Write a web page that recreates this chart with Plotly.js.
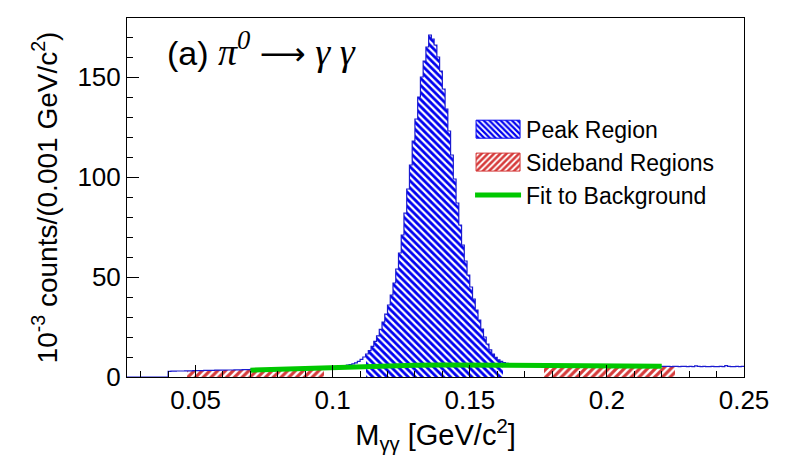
<!DOCTYPE html>
<html><head><meta charset="utf-8">
<script src="https://cdn.plot.ly/plotly-3.0.1.min.js"></script>
<style>html,body{margin:0;padding:0;background:#fff}#chart{width:786px;height:457px}</style>
</head><body><div id="chart"></div>
<script>
// Histogram: 0.001 GeV/c^2 bins starting at 0.025
const binStart = 0.025;
const binWidth = 0.001;
const counts = [
  0,0,0,0,0,0,0,0,0,0,
  0,0,0,0,0,
  2.8,2.9,2.9,3.0,3.0,3.0,3.1,3.1,3.1,3.2,
  3.2,3.2,3.2,3.3,3.3,3.3,3.3,3.4,3.4,3.4,
  3.4,3.5,3.5,3.5,3.6,3.6,3.6,3.7,3.7,3.7,
  3.8,3.8,3.8,3.9,3.9,4.0,4.0,4.0,4.1,4.1,
  4.1,4.2,4.2,4.3,4.3,4.3,4.4,4.4,4.5,4.5,
  4.5,4.6,4.6,4.7,4.7,4.8,4.8,4.8,4.9,4.9,
  5.0,5.1,5.2,5.4,5.6,5.9,6.2,6.6,7.1,7.8,
  8.8,10.0,11.5,13.2,15.3,17.8,20.6,23.8,27.4,31.4,
  36,41,47,54,62,71,82,94,106,118,
  129,140,150,158,165,171,169,166,160,153,
  144,134,123,111,99,87,76,66,58,51,
  45,39,33.5,28.5,24,20,16.5,13.6,11.4,9.8,
  8.6,7.8,7.2,6.8,6.5,6.3,6.2,6.1,6.0,6.0,
  5.9,5.9,5.9,5.8,5.8,5.8,5.8,5.7,5.7,5.7,
  5.7,5.7,5.6,5.7,5.6,5.6,5.7,5.6,5.6,5.6,
  5.6,5.5,5.6,5.6,5.5,5.5,5.6,5.5,5.5,5.5,
  5.5,5.4,5.5,5.5,5.4,5.4,5.5,5.4,5.4,5.4,
  5.4,5.4,5.3,5.4,5.4,5.3,5.3,5.4,5.3,5.3,
  5.3,5.3,5.3,5.2,5.3,5.3,5.2,5.3,5.3,5.2,
  5.3,5.2,5.6,5.3,5.2,5.3,5.2,5.2,5.3,5.2,
  5.2,5.3,5.2,5.7,5.3,5.2,5.2,5.3,5.2,5.3
];
const peakRegion = [0.112, 0.162];
const sidebandRegions = [[0.047, 0.097], [0.177, 0.225]];
const fitX = [0.07,0.08,0.09,0.10,0.11,0.12,0.13,0.14,0.15,0.16,0.17,0.18,0.19,0.20,0.21,0.22];
const fitY = [3.4,3.9,4.4,4.9,5.3,5.7,5.9,6.0,6.0,5.95,5.9,5.8,5.7,5.6,5.5,5.4];

const eps = 1e-9;
const leftEdges = counts.map((_, i) => binStart + i * binWidth);
const centers = leftEdges.map(e => e + binWidth / 2);
function inRegion(i, lo, hi) {
  const e = leftEdges[i];
  return e >= lo - eps && e + binWidth <= hi + eps;
}
const peakIdx = counts.map((_, i) => i).filter(i => inRegion(i, peakRegion[0], peakRegion[1]));
const sideIdx = counts.map((_, i) => i).filter(i => sidebandRegions.some(r => inRegion(i, r[0], r[1])));

const outlineX = leftEdges.concat([binStart + counts.length * binWidth]);
const outlineY = counts.concat([counts[counts.length - 1]]);

const blue = '#0000f0';
const red = '#d63b3b';

const traces = [
  {
    type: 'bar', name: 'Sideband Regions', legendrank: 2,
    x: sideIdx.map(i => centers[i]), y: sideIdx.map(i => counts[i]),
    width: binWidth,
    marker: { color: 'rgba(0,0,0,0)', line: { width: 0 },
      pattern: { shape: '/', fgcolor: red, bgcolor: 'white', size: 5.5, solidity: 0.58 } },
    hoverinfo: 'skip'
  },
  {
    type: 'bar', name: 'Peak Region', legendrank: 1,
    x: peakIdx.map(i => centers[i]), y: peakIdx.map(i => counts[i]),
    width: binWidth,
    marker: { color: 'rgba(0,0,0,0)', line: { width: 0 },
      pattern: { shape: '\\', fgcolor: blue, bgcolor: 'white', size: 5, solidity: 0.55 } },
    hoverinfo: 'skip'
  },
  {
    type: 'scatter', mode: 'lines', x: outlineX, y: outlineY,
    line: { shape: 'hv', color: '#1a1ad0', width: 1.2 },
    showlegend: false, hoverinfo: 'skip'
  },
  {
    type: 'scatter', mode: 'lines', name: 'Fit to Background', legendrank: 3,
    x: fitX, y: fitY, line: { color: '#00c800', width: 5 }, hoverinfo: 'skip'
  }
];

const axisCommon = {
  ticks: 'inside', ticklen: 12, tickwidth: 1, tickcolor: 'black',
  showline: true, linecolor: 'black', linewidth: 1, mirror: true,
  showgrid: false, zeroline: false,
  tickfont: { size: 26, color: 'black' }
};

const legendItemWidth = 46;

const layout = {
  width: 786, height: 457,
  margin: { l: 127, r: 42, t: 18, b: 80 },
  paper_bgcolor: 'white', plot_bgcolor: 'white',
  font: { family: 'Liberation Sans, Arial, Helvetica, sans-serif', color: 'black', size: 26 },
  barmode: 'overlay', bargap: 0,
  xaxis: Object.assign({}, axisCommon, {
    range: [0.025, 0.25], tick0: 0, dtick: 0.05,
    minor: { dtick: 0.01, ticks: 'inside', ticklen: 6, tickcolor: 'black' },
    title: { text: 'M<sub>γγ</sub> [GeV/c<sup>2</sup>]\u00a0\u00a0\u00a0', font: { size: 29 }, standoff: 8 }
  }),
  yaxis: Object.assign({}, axisCommon, {
    range: [0, 179.5], tick0: 0, dtick: 50,
    minor: { dtick: 10, ticks: 'inside', ticklen: 6, tickcolor: 'black' },
    title: { text: '10<sup>-3</sup> counts/(0.001 GeV/c<sup>2</sup>)', font: { size: 28 }, standoff: 11 }
  }),
  legend: {
    x: 0.556, y: 0.75, xanchor: 'left', yanchor: 'top',
    font: { size: 23 }, bgcolor: 'rgba(0,0,0,0)', itemwidth: legendItemWidth
  },
  annotations: [{
    xref: 'paper', yref: 'paper', x: 0.062, y: 0.915, xanchor: 'left', yanchor: 'middle',
    showarrow: false, font: { size: 34 },
    text: '(a) <span style="font-family:Liberation Serif, Times New Roman, serif;font-size:38px"><i>π</i><sup><i>0</i></sup> <span style="font-family:DejaVu Sans;font-size:32px">⟶</span> <i>γ γ</i></span>'
  }]
};

Plotly.newPlot('chart', traces, layout, { displayModeBar: false, staticPlot: true }).then(gd => {
  // widen the bar legend swatches to ROOT-style boxes
  const half = (legendItemWidth - 2) / 2;
  gd.querySelectorAll('.legend .traces').forEach(g => {
    g.querySelectorAll('.legendpoints path').forEach(p => {
      const d = p.getAttribute('d') || '';
      if (d.indexOf('H-6') >= 0) {
        p.setAttribute('d', 'M' + half + ',9H' + (-half) + 'V-9H' + half + 'Z');
        const txt = g.querySelector('.legendtext');
        const isRed = txt && txt.textContent.indexOf('Sideband') >= 0;
        p.style.stroke = isRed ? red : blue;
        p.style.strokeWidth = '1px';
      }
    });
  });
});
</script>
</body></html>
